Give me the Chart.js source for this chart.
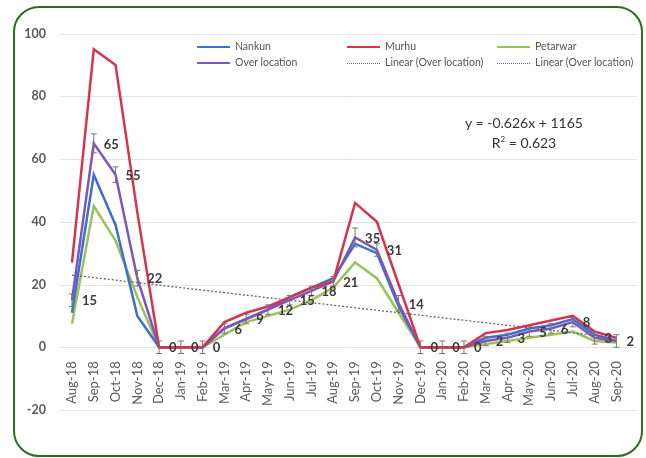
<!DOCTYPE html>
<html>
<head>
<meta charset="utf-8">
<script src="https://cdn.jsdelivr.net/npm/chart.js@4.4.0/dist/chart.umd.min.js"></script>
<style>
  html, body { margin: 0; padding: 0; background: #fff; }
  #wrap { position: relative; width: 646px; height: 458px; overflow: hidden; background: #fff; }
  #frame { position: absolute; left: 13px; top: 6px; width: 630px; height: 451px; box-sizing: border-box;
           border: 2.5px solid #2f6a22; border-radius: 26px; pointer-events: none; }
  canvas { position: absolute; left: 0; top: 0; }
  .lg { position: absolute; font: 10.5px Lato, "Open Sans", sans-serif; color: #555; white-space: nowrap; line-height: 12px; }
  .sw { position: absolute; width: 33px; height: 0; }
  #eq { position: absolute; left: 444px; top: 113px; width: 160px; text-align: center;
        font: 14px Lato, "Open Sans", sans-serif; color: #333; line-height: 20px; }
</style>
</head>
<body>
<div id="wrap">
  <canvas id="c" width="646" height="458"></canvas>
  <div id="legend"></div>
  <div id="eq">y = -0.626x + 1165<br>R<sup style="font-size:8px;vertical-align:6px;line-height:0">2</sup> = 0.623</div>
  <div id="frame"></div>
</div>
<script>
// Months sampled
const months = ['Aug-18','Sep-18','Oct-18','Nov-18','Dec-18','Jan-19','Feb-19','Mar-19','Apr-19','May-19',
  'Jun-19','Jul-19','Aug-19','Sep-19','Oct-19','Nov-19','Dec-19','Jan-20','Feb-20','Mar-20','Apr-20',
  'May-20','Jun-20','Jul-20','Aug-20','Sep-20'];

// Per-location counts
const nankun   = [11, 55, 39, 10, 0, 0, 0, 6, 9, 12, 16, 19, 22, 33, 30, 13, 0, 0, 0, 3, 4, 6, 7, 9, 4, 2];
const murhu    = [27, 95, 90, 43, 0, 0, 0, 8, 11, 13, 16, 19, 21, 46, 40, 20, 0, 0, 0, 4.5, 5.5, 7, 8.5, 10, 5, 3];
const petarwar = [7.5, 45, 34, 16, 0, 0, 0, 4, 8, 10, 12, 15, 19, 27, 22, 11, 0, 0, 0, 1, 2, 3, 4, 5, 2, 1.5];
const overLocation = [15, 65, 55, 22, 0, 0, 0, 6, 9, 12, 15, 18, 21, 35, 31, 14, 0, 0, 0, 2, 3, 5, 6, 8, 3, 2];
// Standard error of the overall mean
const overError = [2, 3, 2.5, 2.5, 2, 2, 2, 1.5, 1.5, 1.5, 1.5, 1.5, 1.5, 3, 2, 2.5, 2, 2, 2, 1.5, 1.5, 1.5, 1.5, 1.5, 2, 2];
// Linear trend of the overall series: value at first and last month
const trendEnds = [23, 3];

const yTicks = { min: -20, max: 100, step: 20 };

const FONT = 'Lato, "Open Sans", sans-serif';

const trendData = months.map((m, i) => i === 0 ? trendEnds[0] : (i === months.length - 1 ? trendEnds[1] : null));

const series = [
  { label: 'Nankun', data: nankun, color: '#3e6fd0', order: 3 },
  { label: 'Murhu', data: murhu, color: '#d6344c', order: 1 },
  { label: 'Petarwar', data: petarwar, color: '#9cc05a', order: 4 },
  { label: 'Over location', data: overLocation, color: '#7c57b7', order: 2 }
];

const datasets = series.map(s => ({
  label: s.label, data: s.data, borderColor: s.color, backgroundColor: s.color,
  borderWidth: 2.5, pointRadius: 0, tension: 0, fill: false, order: s.order
}));
datasets.push({
  label: 'Linear (Over location)', data: trendData, borderColor: '#666', borderWidth: 1.3,
  borderDash: [2, 2], pointRadius: 0, spanGaps: true, fill: false, order: 0
});

// Horizontal grid lines spanning a little past the plot edges
const gridPlugin = {
  id: 'grid',
  beforeDatasetsDraw(chart) {
    const { ctx } = chart;
    const y = chart.scales.y;
    ctx.save();
    ctx.strokeStyle = '#e4e4e4';
    ctx.lineWidth = 1;
    y.ticks.forEach(t => {
      const py = Math.round(y.getPixelForValue(t.value)) + 0.5;
      ctx.beginPath();
      ctx.moveTo(60, py);
      ctx.lineTo(637, py);
      ctx.stroke();
    });
    ctx.restore();
  }
};

// Error bars and value labels for the overall series
const overPlugin = {
  id: 'over',
  afterDatasetsDraw(chart) {
    const { ctx } = chart;
    const x = chart.scales.x, y = chart.scales.y;
    ctx.save();
    ctx.strokeStyle = '#777';
    ctx.lineWidth = 1;
    overLocation.forEach((v, i) => {
      const px = x.getPixelForValue(i);
      const top = y.getPixelForValue(v + overError[i]);
      const bot = y.getPixelForValue(v - overError[i]);
      ctx.beginPath();
      ctx.moveTo(px, top); ctx.lineTo(px, bot);
      ctx.moveTo(px - 3, top); ctx.lineTo(px + 3, top);
      ctx.moveTo(px - 3, bot); ctx.lineTo(px + 3, bot);
      ctx.stroke();
    });
    ctx.fillStyle = '#3a3a3a';
    ctx.font = 'bold 13px ' + FONT;
    ctx.textAlign = 'left';
    ctx.textBaseline = 'middle';
    overLocation.forEach((v, i) => {
      const px = x.getPixelForValue(i);
      const py = y.getPixelForValue(v);
      ctx.fillText(String(v), px + 10, py + 1);
    });
    ctx.restore();
  }
};

new Chart(document.getElementById('c'), {
  type: 'line',
  data: { labels: months, datasets },
  options: {
    responsive: false,
    animation: false,
    devicePixelRatio: 1,
    layout: { padding: { left: 0, right: 16, top: 27, bottom: 48 } },
    plugins: { legend: { display: false }, tooltip: { enabled: false } },
    scales: {
      x: {
        position: { y: 0 },
        offset: false,
        grid: { display: false, drawTicks: false },
        border: { display: false },
        ticks: {
          autoSkip: false, minRotation: 90, maxRotation: 90, padding: 14,
          color: '#5a5a5a', font: { family: FONT, size: 13 }
        }
      },
      y: {
        min: yTicks.min, max: yTicks.max,
        grid: { display: false, drawTicks: false },
        border: { display: false },
        ticks: {
          stepSize: yTicks.step, padding: 26, color: '#5a5a5a',
          font: { family: FONT, size: 12.5, weight: 'bold' }
        },
        afterFit(scale) { scale.width = 72; }
      }
    }
  },
  plugins: [gridPlugin, overPlugin]
});

// Legend: three columns, two rows
const legendItems = [
  { text: 'Nankun', color: series[0].color, dotted: false, col: 0, row: 0 },
  { text: 'Murhu', color: series[1].color, dotted: false, col: 1, row: 0 },
  { text: 'Petarwar', color: series[2].color, dotted: false, col: 2, row: 0 },
  { text: 'Over location', color: series[3].color, dotted: false, col: 0, row: 1 },
  { text: 'Linear (Over location)', color: '#666', dotted: true, col: 1, row: 1 },
  { text: 'Linear (Over location)', color: '#666', dotted: true, col: 2, row: 1 }
];
const lg = document.getElementById('legend');
legendItems.forEach(it => {
  const x0 = 197 + it.col * 150, yc = 47 + it.row * 16;
  const sw = document.createElement('div');
  sw.className = 'sw';
  sw.style.left = x0 + 'px';
  sw.style.top = (yc - (it.dotted ? 0.5 : 1)) + 'px';
  sw.style.borderTop = it.dotted ? '1.3px dotted ' + it.color : '2.5px solid ' + it.color;
  lg.appendChild(sw);
  const t = document.createElement('div');
  t.className = 'lg';
  t.style.left = (x0 + 38) + 'px';
  t.style.top = (yc - 7) + 'px';
  t.textContent = it.text;
  lg.appendChild(t);
});
</script>
</body>
</html>
